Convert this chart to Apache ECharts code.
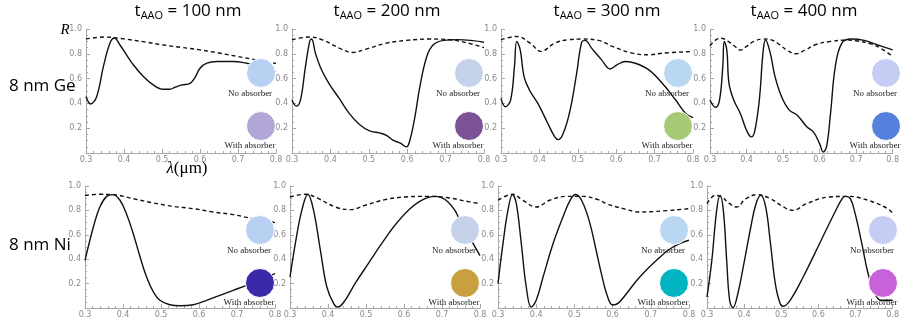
<!DOCTYPE html>
<html>
<head>
<meta charset="utf-8">
<script src="https://cdn.jsdelivr.net/npm/echarts@6/dist/echarts.min.js"></script>
<style>
  html, body { margin: 0; padding: 0; background: #fff; }
  #chart { width: 902px; height: 322px; }
</style>
</head>
<body>
<div id="chart"></div>
<script>
// column headers and row headers
const thickness = ['100', '200', '300', '400'];
const metals = ['8 nm Ge', '8 nm Ni'];

// reflectance curves [lambda (um), R]
const ge100Solid = [[.30,.455],[.312,.395],[.328,.454],[.346,.70],[.363,.886],[.375,.927],[.389,.873],[.407,.79],[.425,.71],[.451,.616],[.477,.549],[.503,.514],[.521,.514],[.534,.53],[.552,.549],[.574,.562],[.587,.61],[.60,.684],[.618,.724],[.644,.738],[.688,.738],[.723,.724],[.76,.70],[.80,.655]];
const ge100Dash = [[.30,.92],[.35,.935],[.40,.92],[.45,.898],[.50,.873],[.55,.852],[.60,.832],[.65,.806],[.70,.778],[.75,.75],[.80,.722]];

const ge200Solid = [[.30,.427],[.311,.378],[.322,.427],[.335,.697],[.346,.90],[.351,.919],[.361,.805],[.375,.684],[.396,.562],[.423,.44],[.449,.319],[.475,.232],[.502,.178],[.528,.162],[.546,.143],[.563,.103],[.581,.081],[.598,.049],[.607,.103],[.62,.29],[.633,.535],[.651,.778],[.668,.873],[.695,.908],[.73,.914],[.765,.908],[.80,.893]];
const ge200Dash = [[.30,.913],[.344,.935],[.379,.913],[.423,.846],[.458,.811],[.493,.838],[.546,.886],[.598,.908],[.66,.919],[.712,.913],[.765,.881],[.80,.85]];

const ge300Solid = [[.30,.44],[.311,.373],[.325,.427],[.335,.697],[.341,.90],[.35,.832],[.36,.616],[.374,.508],[.396,.40],[.422,.238],[.44,.13],[.449,.108],[.462,.157],[.48,.346],[.497,.643],[.51,.892],[.519,.908],[.536,.846],[.562,.751],[.584,.678],[.602,.711],[.624,.738],[.65,.724],[.685,.67],[.72,.562],[.755,.427],[.781,.319],[.80,.286]];
const ge300Dash = [[.30,.913],[.341,.94],[.376,.886],[.404,.819],[.44,.886],[.475,.913],[.51,.919],[.554,.908],[.59,.86],[.642,.805],[.685,.792],[.72,.805],[.80,.819]];

const ge400Solid = [[.30,.427],[.315,.368],[.326,.427],[.335,.697],[.339,.90],[.346,.832],[.352,.562],[.365,.427],[.383,.319],[.40,.184],[.413,.13],[.422,.17],[.435,.427],[.445,.805],[.452,.913],[.465,.805],[.478,.616],[.496,.454],[.517,.346],[.539,.305],[.565,.211],[.583,.17],[.60,.076],[.61,.008],[.619,.049],[.63,.319],[.643,.697],[.661,.886],[.687,.919],[.722,.908],[.757,.873],[.80,.832]];
const ge400Dash = [[.30,.865],[.315,.91],[.33,.925],[.35,.90],[.37,.855],[.383,.83],[.40,.86],[.42,.90],[.445,.92],[.47,.91],[.49,.875],[.51,.83],[.535,.80],[.56,.83],[.59,.875],[.63,.90],[.67,.91],[.70,.905],[.74,.88],[.77,.84],[.80,.78]];

const ni100Solid = [[.30,.39],[.322,.664],[.339,.828],[.357,.915],[.373,.929],[.392,.883],[.409,.773],[.427,.609],[.445,.418],[.462,.254],[.48,.131],[.497,.063],[.523,.027],[.55,.019],[.585,.027],[.62,.063],[.655,.104],[.69,.145],[.725,.186],[.769,.24],[.80,.281]];
const ni100Dash = [[.30,.923],[.339,.932],[.374,.929],[.427,.896],[.48,.861],[.532,.833],[.585,.814],[.637,.787],[.69,.765],[.742,.732],[.80,.70]];

const ni200Solid = [[.30,.254],[.314,.527],[.331,.80],[.347,.932],[.362,.80],[.38,.473],[.397,.172],[.415,.036],[.426,.008],[.445,.063],[.471,.20],[.506,.363],[.541,.527],[.576,.678],[.611,.80],[.646,.883],[.681,.915],[.699,.904],[.716,.869],[.734,.80],[.743,.746],[.782,.527],[.80,.43]];
const ni200Dash = [[.30,.91],[.34,.932],[.375,.896],[.419,.828],[.458,.806],[.498,.842],[.55,.888],[.603,.91],[.664,.915],[.716,.904],[.76,.877],[.80,.855]];

const ni300Solid = [[.30,.20],[.313,.527],[.326,.80],[.338,.929],[.348,.855],[.361,.527],[.374,.172],[.387,.008],[.40,.063],[.418,.254],[.444,.527],[.47,.746],[.49,.89],[.503,.93],[.52,.875],[.54,.70],[.555,.50],[.57,.29],[.585,.11],[.60,.025],[.615,.04],[.636,.117],[.671,.254],[.715,.391],[.758,.50],[.80,.555]];
const ni300Dash = [[.30,.883],[.338,.932],[.365,.883],[.40,.828],[.435,.883],[.479,.915],[.523,.915],[.562,.888],[.584,.855],[.628,.814],[.671,.787],[.715,.792],[.80,.814]];

const ni400Solid = [[.30,.09],[.313,.391],[.326,.80],[.335,.923],[.344,.80],[.353,.391],[.361,.063],[.37,.003],[.383,.117],[.401,.391],[.418,.664],[.432,.855],[.445,.923],[.458,.828],[.471,.527],[.484,.20],[.497,.036],[.506,.014],[.524,.063],[.559,.254],[.603,.527],[.638,.746],[.664,.896],[.673,.915],[.686,.896],[.699,.773],[.717,.527],[.734,.281],[.752,.117],[.769,.063],[.80,.063]];
const ni400Dash = [[.30,.855],[.322,.923],[.339,.91],[.361,.855],[.379,.828],[.405,.896],[.436,.929],[.471,.896],[.506,.828],[.532,.80],[.568,.855],[.629,.91],[.682,.915],[.734,.883],[.787,.814],[.80,.775]];

const xTicks = [0.3, 0.4, 0.5, 0.6, 0.7, 0.8];
const yTicks = [0.2, 0.4, 0.6, 0.8, 1.0];

// circle colours, no absorber / with absorber, per panel
const noAbsColors = ['#b8d0f2', '#c6d2ea', '#b9d7f2', '#c6cdf4', '#b8d0f2', '#c6d2ea', '#b9d7f2', '#c6cdf4'];
const withAbsColors = ['#b1a6d6', '#7b5394', '#a7ca78', '#5580db', '#3a2aa9', '#c9a040', '#00b4c1', '#c862da'];

const panels = [
  [ge100Solid, ge100Dash], [ge200Solid, ge200Dash], [ge300Solid, ge300Dash], [ge400Solid, ge400Dash],
  [ni100Solid, ni100Dash], [ni200Solid, ni200Dash], [ni300Solid, ni300Dash], [ni400Solid, ni400Dash]
];

const grids = [
  {left: 86, top: 29, width: 190, height: 124},
  {left: 292, top: 29, width: 192, height: 124},
  {left: 501, top: 29, width: 192, height: 124},
  {left: 710, top: 29, width: 191, height: 124},
  {left: 85, top: 186, width: 190, height: 122},
  {left: 290, top: 186, width: 190, height: 122},
  {left: 498, top: 186, width: 191, height: 122},
  {left: 707, top: 186, width: 191, height: 122}
];

const axisGray = '#a8a8a8';
const labelStyle = {color: '#8a8a8a', fontSize: 8, fontFamily: 'DejaVu Sans'};

var chart = echarts.init(document.getElementById('chart'));

const xAxes = grids.map((g, i) => ({
  type: 'value', gridIndex: i,
  min: xTicks[0], max: xTicks[xTicks.length - 1], interval: 0.1,
  axisLine: {lineStyle: {color: axisGray}},
  axisTick: {inside: true, length: 4, lineStyle: {color: axisGray}},
  minorTick: {show: true, splitNumber: 5, length: 2, lineStyle: {color: axisGray}},
  splitLine: {show: false},
  axisLabel: Object.assign({margin: 3, formatter: v => v.toFixed(1)}, labelStyle)
}));

const yAxes = grids.map((g, i) => ({
  type: 'value', gridIndex: i,
  min: 0, max: yTicks[yTicks.length - 1], interval: 0.2,
  axisLine: {show: true, lineStyle: {color: axisGray}},
  axisTick: {show: true, inside: true, length: 4, lineStyle: {color: axisGray}},
  minorTick: {show: true, splitNumber: 4, length: 2, lineStyle: {color: axisGray}},
  splitLine: {show: false},
  axisLabel: Object.assign({margin: 4, formatter: v => (v === 0 ? '' : v.toFixed(1))}, labelStyle)
}));

const series = [];
panels.forEach((p, i) => {
  series.push({
    type: 'line', xAxisIndex: i, yAxisIndex: i, data: p[0],
    smooth: 0.4, showSymbol: false, silent: true,
    lineStyle: {color: '#111', width: 1.4}
  });
  series.push({
    type: 'line', xAxisIndex: i, yAxisIndex: i, data: p[1],
    smooth: 0.4, showSymbol: false, silent: true,
    lineStyle: {color: '#111', width: 1.4, type: [4, 3]}
  });
});

const graphic = [];
const serif = 'Liberation Serif';
grids.forEach((g, i) => {
  const right = g.left + g.width;
  graphic.push({type: 'circle', z: 100, shape: {cx: right - 15, cy: g.top + 44, r: 14.5},
    style: {fill: noAbsColors[i], stroke: '#fff', lineWidth: 1}});
  graphic.push({type: 'circle', z: 100, shape: {cx: right - 15, cy: g.top + 97, r: 14.5},
    style: {fill: withAbsColors[i], stroke: '#fff', lineWidth: 1}});
  graphic.push({type: 'text', z: 101, x: right - 26, y: g.top + 65,
    style: {text: 'No absorber', fill: '#222', font: '9px ' + serif, textAlign: 'center', textVerticalAlign: 'middle'}});
  graphic.push({type: 'text', z: 101, x: right - 26, y: g.top + 117,
    style: {text: 'With absorber', fill: '#222', font: '9px ' + serif, textAlign: 'center', textVerticalAlign: 'middle'}});
});

// column titles
const titleX = [188, 387, 607, 804];
thickness.forEach((t, i) => {
  graphic.push({type: 'text', x: titleX[i], y: 11,
    style: {
      text: '{a|t}{b|AAO}{a| = ' + t + ' nm}',
      textAlign: 'center', textVerticalAlign: 'middle',
      rich: {
        a: {fontSize: 17, fontFamily: 'Open Sans', lineHeight: 21, color: '#000'},
        b: {fontSize: 11, fontFamily: 'Open Sans', lineHeight: 11, padding: [10, 0, 0, 0], color: '#000'}
      }
    }});
});

// row titles
const rowY = [86, 245];
metals.forEach((m, i) => {
  graphic.push({type: 'text', x: 9, y: rowY[i],
    style: {text: m, fill: '#000', font: '17px Open Sans', textAlign: 'left', textVerticalAlign: 'middle'}});
});

// axis names
graphic.push({type: 'text', x: 65, y: 30,
  style: {text: 'R', fill: '#000', font: 'italic 15px ' + serif, textAlign: 'center', textVerticalAlign: 'middle'}});
graphic.push({type: 'text', x: 187, y: 169,
  style: {
    text: '{i|λ}{r|(μm)}', textAlign: 'center', textVerticalAlign: 'middle',
    rich: {
      i: {fontSize: 17, fontFamily: serif, fontStyle: 'italic', color: '#000'},
      r: {fontSize: 17, fontFamily: serif, color: '#000'}
    }
  }});

var option = {
  animation: false,
  backgroundColor: '#fff',
  grid: grids,
  xAxis: xAxes,
  yAxis: yAxes,
  series: series,
  graphic: graphic
};

option && chart.setOption(option);
</script>
</body>
</html>
